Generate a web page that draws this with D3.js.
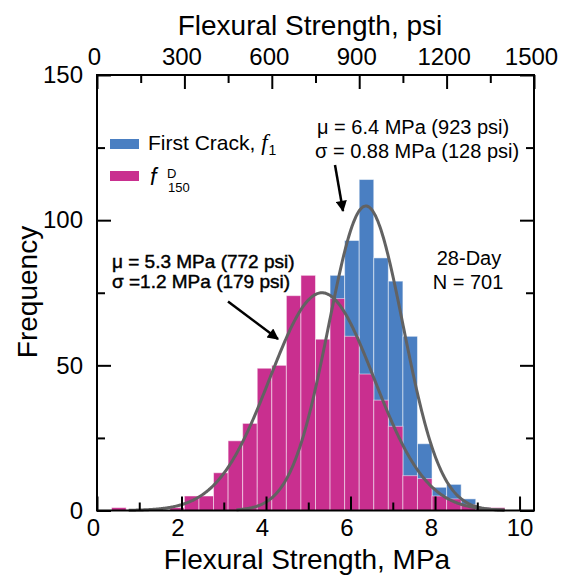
<!DOCTYPE html>
<html>
<head>
<meta charset="utf-8">
<script src="https://cdn.jsdelivr.net/npm/d3@7"></script>
<style>
  body { margin: 0; background: #fff; }
  svg { display: block; }
  text { font-family: "Liberation Sans", Arial, sans-serif; fill: #000; }
</style>
</head>
<body>
<svg id="chart" width="570" height="579"></svg>
<script>
// Histogram bins (lower edge, psi) and bin width
const binStartPsi = [0, 50, 100, 150, 200, 250, 300, 350, 400, 450,
                     500, 550, 600, 650, 700, 750, 800, 850, 900, 950,
                     1000, 1050, 1100, 1150, 1200, 1250, 1300, 1350, 1400, 1450];
const binWidthPsi = 50;

// Frequencies per bin
const firstCrackCounts = [0, 0, 0, 0, 0, 0, 1, 2, 3, 4,
                          5, 8, 12, 20, 35, 52, 81, 93, 114, 87,
                          79, 60, 23, 8, 9, 4, 1, 0, 0, 0];
const fD150Counts      = [0, 1, 0, 0, 0, 1, 5, 5, 13, 24,
                          30, 49, 50, 74, 81, 59, 73, 60, 47, 38,
                          29, 12, 11, 5, 4, 2, 1, 1, 0, 0];

// Normal fits (psi) and the MPa range each curve is drawn over
const fitNames = ["firstCrack", "fD150"];
const fitMeanPsi = [923, 772];
const fitSigmaPsi = [128, 179];
const fitFromMPa = [3.3, 0.75];
const fitToMPa = [9.65, 9.65];
const fitCount = 673;

// Axis ticks
const mpaMajorTicks = [0, 2, 4, 6, 8, 10];
const mpaMinorTicks = [1, 3, 5, 7, 9];
const psiMajorTicks = [0, 300, 600, 900, 1200, 1500];
const psiMinorTicks = [150, 450, 750, 1050, 1350];
const freqMajorTicks = [0, 50, 100, 150];
const freqMinorTicks = [25, 75, 125];

const PSI_PER_MPA = 145.038;
const colors = { firstCrack: "#4a7fc2", fD150: "#c92f8f", fit: "#626262" };

const svg = d3.select("#chart");
const plotLeft = 97, plotRight = 534, plotTop = 75, plotBottom = 510.5;

const xPsi = d3.scaleLinear().domain([0, 1500]).range([plotLeft, plotRight]);
const xMPa = d3.scaleLinear().domain([0, 1500 / PSI_PER_MPA]).range([plotLeft, plotRight]);
const y = d3.scaleLinear().domain([0, 150]).range([plotBottom, plotTop]);

// Bars: first crack behind, f^D_150 in front
function drawBars(counts, color) {
  const rows = binStartPsi.map((b, i) => ({ b, c: counts[i] })).filter(d => d.c > 0);
  svg.append("g").selectAll("rect").data(rows).join("rect")
    .attr("x", d => xPsi(d.b))
    .attr("width", d => xPsi(d.b + binWidthPsi) - xPsi(d.b))
    .attr("y", d => y(d.c))
    .attr("height", d => y(0) - y(d.c))
    .attr("fill", color)
    .attr("stroke", "rgba(255,255,255,0.5)")
    .attr("stroke-width", 1);
}
drawBars(firstCrackCounts, colors.firstCrack);
drawBars(fD150Counts, colors.fD150);

// Fitted normal curves
fitNames.forEach((name, i) => {
  const mu = fitMeanPsi[i], s = fitSigmaPsi[i];
  const peak = fitCount * binWidthPsi / (s * Math.sqrt(2 * Math.PI));
  const pts = d3.range(fitFromMPa[i], fitToMPa[i] + 1e-9, 0.02).map(m => {
    const p = m * PSI_PER_MPA;
    return [m, peak * Math.exp(-((p - mu) ** 2) / (2 * s * s))];
  });
  svg.append("path")
    .datum(pts)
    .attr("fill", "none")
    .attr("stroke", colors.fit)
    .attr("stroke-width", 3)
    .attr("d", d3.line().x(d => xMPa(d[0])).y(d => y(d[1])).curve(d3.curveMonotoneX));
});

// Axes with inward ticks
function styleAxis(g) {
  g.select(".domain").remove();
  g.selectAll(".tick line").attr("stroke", "#000").attr("stroke-width", 2);
  g.selectAll(".tick text").attr("font-size", 24).attr("font-family", "Liberation Sans, Arial, sans-serif").attr("fill", "#000");
}

svg.append("g").attr("transform", `translate(0,${plotBottom})`)
  .call(d3.axisBottom(xMPa).tickValues(mpaMajorTicks).tickSize(-14).tickPadding(8).tickFormat(d3.format("d")))
  .call(styleAxis)
  .call(g => g.selectAll(".tick text").attr("dx", d => d < 10 ? -4 : 0));
svg.append("g").attr("transform", `translate(0,${plotBottom})`)
  .call(d3.axisBottom(xMPa).tickValues(mpaMinorTicks).tickSize(-8).tickFormat(""))
  .call(styleAxis);

svg.append("g").attr("transform", `translate(0,${plotTop})`)
  .call(d3.axisTop(xPsi).tickValues(psiMajorTicks).tickSize(-14).tickPadding(10).tickFormat(d3.format("d")))
  .call(styleAxis)
  .call(g => g.selectAll(".tick text").attr("dx", -3));
svg.append("g").attr("transform", `translate(0,${plotTop})`)
  .call(d3.axisTop(xPsi).tickValues(psiMinorTicks).tickSize(-8).tickFormat(""))
  .call(styleAxis);

svg.append("g").attr("transform", `translate(${plotLeft},0)`)
  .call(d3.axisLeft(y).tickValues(freqMajorTicks).tickSize(-14).tickPadding(14))
  .call(styleAxis);
svg.append("g").attr("transform", `translate(${plotLeft},0)`)
  .call(d3.axisLeft(y).tickValues(freqMinorTicks).tickSize(-8).tickFormat(""))
  .call(styleAxis);

svg.append("g").attr("transform", `translate(${plotRight},0)`)
  .call(d3.axisRight(y).tickValues(freqMajorTicks).tickSize(-14).tickFormat(""))
  .call(styleAxis);
svg.append("g").attr("transform", `translate(${plotRight},0)`)
  .call(d3.axisRight(y).tickValues(freqMinorTicks).tickSize(-8).tickFormat(""))
  .call(styleAxis);

// Frame
svg.append("rect")
  .attr("x", plotLeft).attr("y", plotTop)
  .attr("width", plotRight - plotLeft).attr("height", plotBottom - plotTop)
  .attr("fill", "none").attr("stroke", "#000").attr("stroke-width", 2);

// Axis titles
svg.append("text").attr("x", 310).attr("y", 35).attr("text-anchor", "middle")
  .attr("font-size", 28).text("Flexural Strength, psi");
svg.append("text").attr("x", 307).attr("y", 569).attr("text-anchor", "middle")
  .attr("font-size", 28).text("Flexural Strength, MPa");
svg.append("text").attr("transform", "translate(37,292) rotate(-90)").attr("text-anchor", "middle")
  .attr("font-size", 28).text("Frequency");

// Legend
const legend = svg.append("g");
legend.append("rect").attr("x", 110).attr("y", 139).attr("width", 29).attr("height", 10).attr("fill", colors.firstCrack);
legend.append("rect").attr("x", 110).attr("y", 171).attr("width", 29).attr("height", 10).attr("fill", colors.fD150);
const t1 = legend.append("text").attr("x", 148).attr("y", 149.5).attr("font-size", 21);
t1.append("tspan").text("First Crack, ");
t1.append("tspan").attr("font-family", "Liberation Serif, Times New Roman, serif").attr("font-style", "italic").attr("font-size", 23).text("f");
t1.append("tspan").attr("font-size", 14).attr("dy", 5).attr("dx", 1).text("1");
legend.append("text").attr("x", 150).attr("y", 184.5)
  .attr("font-family", "Liberation Serif, Times New Roman, serif").attr("font-style", "italic").attr("font-size", 23).text("f");
legend.append("text").attr("x", 167).attr("y", 178).attr("font-size", 13).text("D");
legend.append("text").attr("x", 168).attr("y", 192).attr("font-size", 13).text("150");

// Annotations
svg.append("text").attr("x", 317).attr("y", 134).attr("font-size", 20).text("μ = 6.4 MPa (923 psi)");
svg.append("text").attr("x", 315).attr("y", 158).attr("font-size", 20).text("σ = 0.88 MPa (128 psi)");
svg.append("text").attr("x", 469).attr("y", 265).attr("text-anchor", "middle").attr("font-size", 20).text("28-Day");
svg.append("text").attr("x", 468).attr("y", 289).attr("text-anchor", "middle").attr("font-size", 20).text("N = 701");
svg.selectAll("text.fdLabel")
  .data([["μ = 5.3 MPa (772 psi)", 268], ["σ =1.2 MPa (179 psi)", 288]])
  .join("text").attr("class", "fdLabel")
  .attr("x", 112).attr("y", d => d[1])
  .attr("font-size", 19).attr("font-family", "Lato, sans-serif")
  .attr("stroke", "#000").attr("stroke-width", 0.45)
  .text(d => d[0]);

// Arrows
svg.append("defs").append("marker")
  .attr("id", "arrowhead").attr("viewBox", "0 0 10 10")
  .attr("refX", 9).attr("refY", 5)
  .attr("markerWidth", 5).attr("markerHeight", 4.5)
  .attr("markerUnits", "strokeWidth")
  .attr("orient", "auto")
  .append("path").attr("d", "M0,0 L10,5 L0,10 z").attr("fill", "#000");
const arrows = [[335, 165, 343, 211], [228, 301.5, 278, 339]];
svg.append("g").selectAll("line").data(arrows).join("line")
  .attr("x1", d => d[0]).attr("y1", d => d[1]).attr("x2", d => d[2]).attr("y2", d => d[3])
  .attr("stroke", "#000").attr("stroke-width", 2.5).attr("marker-end", "url(#arrowhead)");
</script>
</body>
</html>
